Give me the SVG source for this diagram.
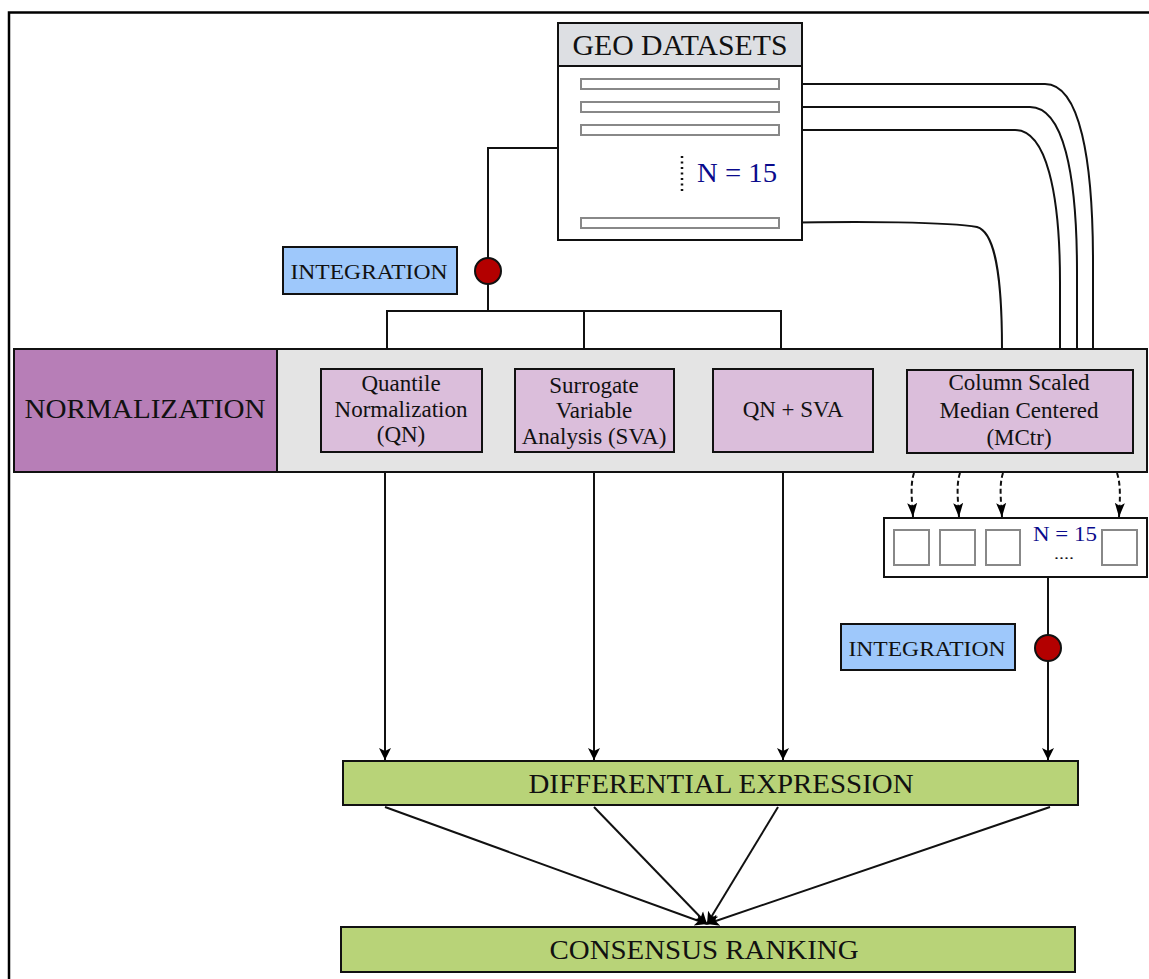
<svg xmlns="http://www.w3.org/2000/svg" width="1149" height="979" viewBox="0 0 1149 979">
<defs>
<marker id="arr" viewBox="0 0 12 14" refX="12" refY="7" markerWidth="12" markerHeight="14" markerUnits="userSpaceOnUse" orient="auto">
<path d="M0,1 L12,7 L0,13 L3,7 Z" fill="#000"/>
</marker>
<marker id="arrd" viewBox="0 0 14 12" refX="14" refY="6" markerWidth="14" markerHeight="12" markerUnits="userSpaceOnUse" orient="auto">
<path d="M0,1 L14,6 L0,11 L3,6 Z" fill="#000"/>
</marker>
</defs>
<style>
text{font-family:"Liberation Serif","Times New Roman",serif;fill:#111;text-anchor:middle}
.box{stroke:#111;stroke-width:2}
.bar{fill:#fff;stroke:#888;stroke-width:2}
.sq{fill:#fff;stroke:#888;stroke-width:2}
.ln{fill:none;stroke:#111;stroke-width:2}
.dash{fill:none;stroke:#111;stroke-width:2;stroke-dasharray:5,3}
.integ{fill:#9ec8fb;stroke:#111;stroke-width:2}
.dot{fill:#b30000;stroke:#111;stroke-width:2}
.green{fill:#b8d378;stroke:#111;stroke-width:2}
.lilac{fill:#dbbedb;stroke:#111;stroke-width:2}
.blue{fill:#0a0a8c}
.bt{font-size:23px}
</style>
<rect width="1149" height="979" fill="#fff"/>
<path d="M9,979 V12.5 H1149" fill="none" stroke="#000" stroke-width="2.5"/>

<g id="connectors">
<path class="ln" d="M558,148 H488 V310"/>
<path class="ln" d="M387,349 V311 H781 V349 M584,311 V349"/>
<path class="ln" d="M779,84 H1045 C1080,84 1093,160 1093,262 V349"/>
<path class="ln" d="M779,107 H1030 C1063,107 1077,172 1077,272 V349"/>
<path class="ln" d="M779,130 H1015 C1046,130 1060,192 1060,282 V349"/>
<path class="ln" d="M779,223 C860,221 950,222 977,227 C995,232 1002,275 1002,349"/>
<path class="ln" d="M385,473 V760" marker-end="url(#arr)"/>
<path class="ln" d="M594,473 V760" marker-end="url(#arr)"/>
<path class="ln" d="M783,473 V760" marker-end="url(#arr)"/>
<path class="ln" d="M1048,577 V760" marker-end="url(#arr)"/>
<path class="dash" d="M914,473 C910,485 912,500 913,517" marker-end="url(#arrd)"/>
<path class="dash" d="M960,473 C956,485 958,500 959,517" marker-end="url(#arrd)"/>
<path class="dash" d="M1003,473 C999,485 1001,500 1002,517" marker-end="url(#arrd)"/>
<path class="dash" d="M1117,473 C1121,485 1120,500 1119,517" marker-end="url(#arrd)"/>
<path class="ln" d="M385,807 L707,924" marker-end="url(#arr)"/>
<path class="ln" d="M594,807 L707,924" marker-end="url(#arr)"/>
<path class="ln" d="M778,807 L707,924" marker-end="url(#arr)"/>
<path class="ln" d="M1050,807 L707,924" marker-end="url(#arr)"/>
</g>

<g id="geo">
<rect x="558" y="23" width="244" height="217" fill="#fff" class="box"/>
<rect x="558" y="23" width="244" height="43" fill="#dddfe3" class="box"/>
<text x="680" y="55" font-size="29" textLength="215" lengthAdjust="spacingAndGlyphs">GEO DATASETS</text>
<rect class="bar" x="581" y="79" width="198" height="10"/>
<rect class="bar" x="581" y="102" width="198" height="10"/>
<rect class="bar" x="581" y="125" width="198" height="10"/>
<rect class="bar" x="581" y="218" width="198" height="10"/>
<line x1="682" y1="156" x2="682" y2="194" stroke="#111" stroke-width="2.5" stroke-dasharray="2,3.5"/>
<text x="737" y="182" font-size="27" class="blue" textLength="80" lengthAdjust="spacingAndGlyphs">N = 15</text>
</g>

<g id="integration1">
<rect class="integ" x="283" y="247" width="174" height="47"/>
<text x="369" y="279" font-size="22" textLength="157" lengthAdjust="spacingAndGlyphs">INTEGRATION</text>
</g>
<circle id="dot1" class="dot" cx="488" cy="271" r="13"/>

<g id="normalization">
<rect x="14" y="349" width="1133" height="123" fill="#e4e4e4" class="box"/>
<rect x="14" y="349" width="263" height="123" fill="#b77eb7" class="box"/>
<text x="145" y="418" font-size="28" textLength="241" lengthAdjust="spacingAndGlyphs">NORMALIZATION</text>
</g>
<g id="qn">
<rect class="lilac" x="321" y="369" width="161" height="83"/>
<text class="bt" x="401" y="391">Quantile</text>
<text class="bt" x="401" y="417">Normalization</text>
<text class="bt" x="401" y="442">(QN)</text>
</g>
<g id="sva">
<rect class="lilac" x="515" y="369" width="159" height="83"/>
<text class="bt" x="594" y="393">Surrogate</text>
<text class="bt" x="594" y="418">Variable</text>
<text class="bt" x="594" y="444">Analysis (SVA)</text>
</g>
<g id="qnsva">
<rect class="lilac" x="713" y="369" width="160" height="83"/>
<text class="bt" x="793" y="417">QN + SVA</text>
</g>
<g id="mctr">
<rect class="lilac" x="907" y="370" width="226" height="83"/>
<text class="bt" x="1019" y="390">Column Scaled</text>
<text class="bt" x="1019" y="418">Median Centered</text>
<text class="bt" x="1019" y="445">(MCtr)</text>
</g>

<g id="datasets-split">
<rect x="884" y="518" width="263" height="59" fill="#fff" class="box"/>
<rect class="sq" x="894" y="530" width="35" height="35"/>
<rect class="sq" x="940" y="530" width="35" height="35"/>
<rect class="sq" x="986" y="530" width="34" height="35"/>
<rect class="sq" x="1102" y="530" width="35" height="35"/>
<text x="1065" y="541" font-size="21" class="blue" textLength="64" lengthAdjust="spacingAndGlyphs">N = 15</text>
<text x="1064" y="559" font-size="14" textLength="20" lengthAdjust="spacingAndGlyphs">....</text>
</g>

<g id="integration2">
<rect class="integ" x="841" y="624" width="174" height="46"/>
<text x="927" y="656" font-size="22" textLength="157" lengthAdjust="spacingAndGlyphs">INTEGRATION</text>
</g>
<circle id="dot2" class="dot" cx="1048" cy="648" r="13"/>

<g id="de">
<rect class="green" x="343" y="761" width="735" height="44"/>
<text x="721" y="793" font-size="28" textLength="385" lengthAdjust="spacingAndGlyphs">DIFFERENTIAL EXPRESSION</text>
</g>
<g id="consensus">
<rect class="green" x="341" y="927" width="734" height="45"/>
<text x="704" y="959" font-size="28" textLength="309" lengthAdjust="spacingAndGlyphs">CONSENSUS RANKING</text>
</g>
</svg>
